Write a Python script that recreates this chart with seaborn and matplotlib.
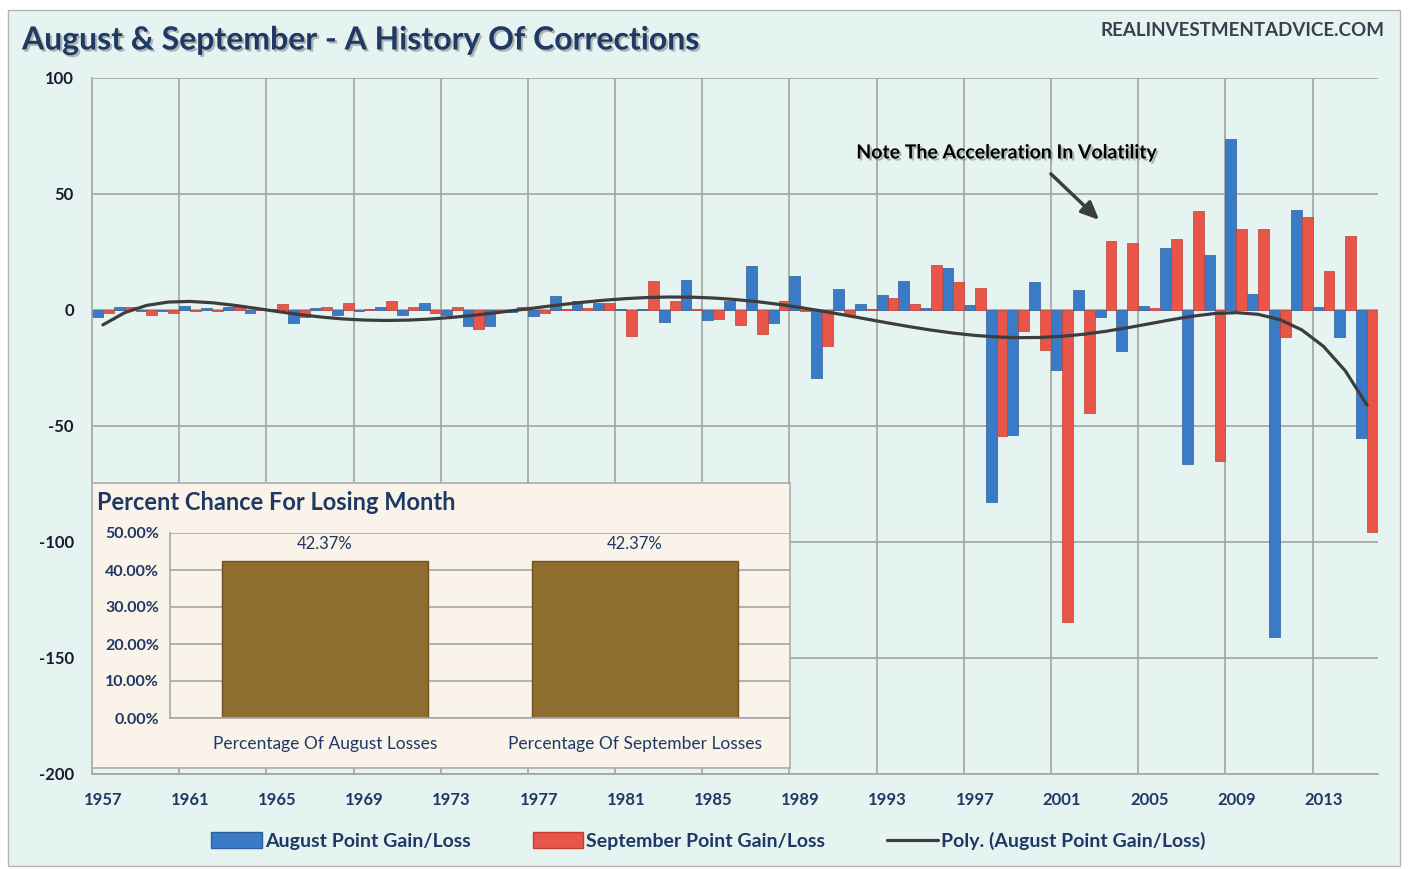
# August & September - A History Of Corrections
import numpy as np
import pandas as pd
import seaborn as sns
import matplotlib.pyplot as plt
import matplotlib.patheffects as pe
from matplotlib.patches import Patch, Rectangle
from matplotlib.lines import Line2D

# Dados
years = list(range(1957, 2016))
august = [-3, 1.2, -0.5, -0.3, 1.8, 0.8, 1.5, -1.5, 0.3, -5.5,
          1, -2, -0.5, 1.5, -2, 3, -2, -7, -7, -1,
          -2.5, 6, 4, 3, 0.3, 0.3, -5, 13, -4.5, 4,
          19, -5.5, 14.5, -29.5, 9, 2.6, 6.5, 12.6, 1, 18,
          2, -82.6, -54, 12, -26, 8.6, -3, -17.7, 1.7, 26.9,
          -66.4, 23.7, 73.7, 6.8, -140.8, 43.1, 1.1, -11.8, -55.3]
september = [-1.4, 1.1, -2, -1.5, -0.3, -0.3, 2, 0.2, 2.5, -3,
             1.5, 3, 0.3, 4, 1.5, -1.5, 1.5, -8, -0.3, 1.5,
             -1.5, 0.3, 1, 3, -11, 12.7, 4, 0.5, -4, -6.5,
             -10.5, 4, -0.3, -15.5, -2, 0.3, 5, 2.6, 19.4, 12,
             9.3, -54.2, -9, -17.2, -134.3, -44.4, 29.7, 28.7, 1, 30.6,
             42.7, -65, 34.9, 34.9, -11.5, 40.2, 17, 31.9, -95.5]
series_names = ["August Point Gain/Loss", "September Point Gain/Loss"]
losing_labels = ["Percentage Of August Losses", "Percentage Of September Losses"]
losing_pct = [42.37, 42.37]

blue = "#3a7bc8"
red = "#e8564a"
brown = "#8f6d2f"
navy = "#1f3864"
mint = "#e6f4f1"

sns.set_theme(style="white")
plt.rcParams['font.family'] = ['Lato', 'DejaVu Sans']
plt.rcParams['axes.unicode_minus'] = False

df = pd.DataFrame({
    "Year": [str(y) for y in years] * 2,
    "Points": august + september,
    "Month": [series_names[0]] * len(years) + [series_names[1]] * len(years),
})

fig = plt.figure(figsize=(14.08, 8.69), dpi=100)
fig.patches.append(Rectangle((8 / 1408, 3 / 869), 1392 / 1408, 856 / 869,
                             transform=fig.transFigure, facecolor=mint,
                             edgecolor="#b5b5b5", lw=1, zorder=-10))

# Gráfico principal
ax = fig.add_axes([92 / 1408, 1 - 774 / 869, 1286 / 1408, 696 / 869])
ax.set_facecolor(mint)
sns.barplot(data=df, x="Year", y="Points", hue="Month", palette=[blue, red],
            width=1.0, gap=0, saturation=1, errorbar=None, legend=False,
            edgecolor="#2f5f9a", linewidth=0.5, ax=ax)
for bar in ax.containers[1]:
    bar.set_edgecolor("#c43d31")

# Tendência polinomial (grau 6) dos valores de agosto
pos = np.arange(len(years))
trend = np.polyval(np.polyfit(pos, august, 6), pos)
ax.plot(pos, trend, color="#3d3d3d", lw=2.3, zorder=5)

ax.set_xlim(-0.5, len(years) - 0.5)
ax.set_ylim(-200, 100)
ax.set_yticks(range(-200, 101, 50))
ax.set_xticks(pos[::4])
ax.set_xticklabels(years[::4])
ax.set_xticks(np.arange(3.5, len(years) - 1, 4), minor=True)
ax.grid(axis="y", which="major", color="#a3a3a3", lw=1.2)
ax.grid(axis="x", which="minor", color="#a3a3a3", lw=1.2)
ax.grid(axis="x", which="major", visible=False)
ax.set_axisbelow(True)
ax.set_xlabel("")
ax.set_ylabel("")
for s in ["top", "right"]:
    ax.spines[s].set_visible(False)
for s in ["left", "bottom"]:
    ax.spines[s].set_color("#a3a3a3")
    ax.spines[s].set_linewidth(1.2)
ax.tick_params(axis="y", length=5, color="#a3a3a3", pad=8,
               labelsize=12, labelcolor="#1a1a2e")
ax.tick_params(axis="x", which="major", length=0, pad=13,
               labelsize=12, labelcolor=navy)
ax.tick_params(axis="x", which="minor", length=5, color="#a3a3a3")
for t in ax.get_xticklabels() + ax.get_yticklabels():
    t.set_fontweight("bold")

shadow = [pe.withSimplePatchShadow(offset=(1.5, -1.5), shadow_rgbFace="#888888", alpha=0.6)]
ax.text(41.5, 67.7, "Note The Acceleration In Volatility", ha="center", va="center",
        fontsize=14, fontweight="bold", color="black", path_effects=shadow, zorder=6)
ax.annotate("", xy=(45.8, 38), xytext=(43.4, 59.5),
            arrowprops=dict(arrowstyle="-|>,head_length=0.9,head_width=0.4",
                            color="#3d3d3d", lw=2.5), zorder=6)

# Painel: chance de mês negativo
panel = fig.add_axes([92 / 1408, 1 - 768 / 869, 698 / 1408, 285 / 869], zorder=3)
panel.set_facecolor("#faf3ea")
panel.set_xticks([])
panel.set_yticks([])
for s in panel.spines.values():
    s.set_color("#b0b0b0")
fig.text(97 / 1408, 1 - 503 / 869, "Percent Chance For Losing Month", ha="left",
         va="center", fontsize=17, fontweight="bold", color=navy, zorder=6)

inner = fig.add_axes([170 / 1408, 1 - 718 / 869, 620 / 1408, 185 / 869], zorder=4)
inner.set_facecolor("none")
sns.barplot(x=losing_labels, y=losing_pct, color=brown, width=0.665, saturation=1,
            edgecolor="#6f5322", linewidth=1, ax=inner)
inner.bar_label(inner.containers[0], fmt="%.2f%%", padding=7,
                fontsize=12, color=navy)
inner.set_ylim(0, 50)
inner.set_xlim(-0.5, 1.5)
inner.set_yticks(range(0, 51, 10))
inner.set_yticklabels([f"{v:.2f}%" for v in range(0, 51, 10)])
inner.set_xticks([0.5], minor=True)
inner.grid(axis="y", color="#a6a6a6", lw=1.2)
inner.set_axisbelow(True)
for s in ["top", "right"]:
    inner.spines[s].set_visible(False)
for s in ["left", "bottom"]:
    inner.spines[s].set_color("#a6a6a6")
    inner.spines[s].set_linewidth(1.2)
inner.tick_params(axis="y", length=5, color="#a6a6a6", pad=3,
                  labelsize=11.5, labelcolor=navy)
inner.tick_params(axis="x", which="major", length=0, pad=13,
                  labelsize=12.5, labelcolor=navy)
inner.tick_params(axis="x", which="minor", length=6, color="#a6a6a6")
for t in inner.get_yticklabels():
    t.set_fontweight("bold")

# Legenda
handles = [Patch(facecolor=blue, edgecolor="#2f5f9a"),
           Patch(facecolor=red, edgecolor="#c43d31"),
           Line2D([0], [0], color="#3d3d3d", lw=2.3)]
labels = series_names + ["Poly. (August Point Gain/Loss)"]
fig.legend(handles, labels, loc="center", bbox_to_anchor=(0.503, 1 - 841 / 869),
           ncol=3, frameon=False, prop={"weight": "bold", "size": 14},
           labelcolor=navy, handlelength=2.6, handleheight=0.9,
           handletextpad=0.15, columnspacing=3.2)

# Títulos
fig.text(22 / 1408, 1 - 40 / 869, "August & September - A History Of Corrections",
         ha="left", va="center", fontsize=23, fontweight="bold", color=navy,
         path_effects=shadow)
fig.text(1384 / 1408, 1 - 30 / 869, "REALINVESTMENTADVICE.COM", ha="right",
         va="center", fontsize=13.5, fontweight="bold", color="#3a3f4f")

fig.savefig("out.png", dpi=100, facecolor="white")
